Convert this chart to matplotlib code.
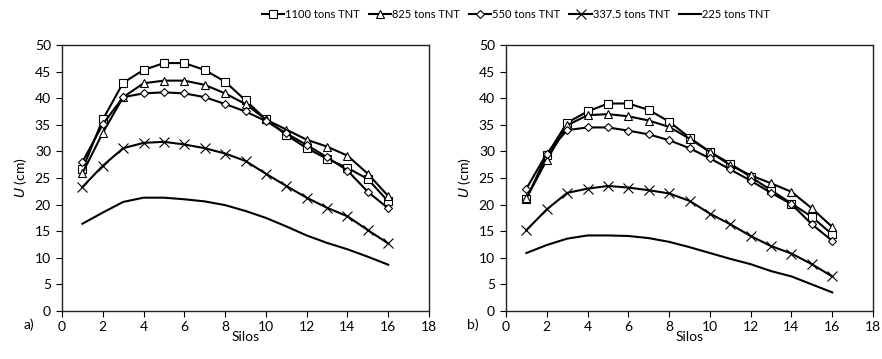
import matplotlib
matplotlib.use("Agg")
import matplotlib.pyplot as plt

plt.rcParams['font.family'] = ['Lato', 'DejaVu Sans']
plt.rcParams['font.size'] = 10

silos = list(range(1, 17))
labels = ['1100 tons TNT', '825 tons TNT', '550 tons TNT', '337.5 tons TNT', '225 tons TNT']
markers = ['s', '^', 'D', 'x', None]

# panel a)
a_1100 = [26.6, 36.0, 42.9, 45.3, 46.6, 46.6, 45.3, 43.1, 39.6, 36.0, 33.1, 30.6, 28.6, 26.9, 24.8, 20.6]
a_825 = [25.9, 33.5, 40.2, 42.8, 43.3, 43.3, 42.5, 40.9, 38.9, 36.0, 34.1, 32.2, 30.9, 29.2, 25.8, 21.6]
a_550 = [28.0, 35.1, 40.2, 40.9, 41.1, 40.9, 40.2, 38.9, 37.5, 35.7, 33.4, 31.2, 28.9, 26.4, 22.4, 19.3]
a_3375 = [23.3, 27.3, 30.6, 31.6, 31.8, 31.3, 30.6, 29.6, 28.2, 25.8, 23.5, 21.3, 19.4, 17.8, 15.2, 12.7]
a_225 = [16.4, 18.5, 20.5, 21.3, 21.3, 21.0, 20.6, 19.9, 18.8, 17.5, 15.9, 14.2, 12.8, 11.6, 10.2, 8.7]

# panel b)
b_1100 = [21.1, 29.3, 35.4, 37.5, 39.0, 39.0, 37.8, 35.6, 32.6, 29.9, 27.7, 25.2, 22.7, 20.2, 17.7, 14.4]
b_825 = [21.2, 28.4, 34.9, 36.8, 37.0, 36.6, 35.8, 34.6, 32.4, 29.9, 27.4, 25.5, 24.0, 22.4, 19.3, 15.8]
b_550 = [23.0, 29.6, 34.0, 34.5, 34.5, 33.9, 33.2, 32.1, 30.6, 28.7, 26.6, 24.5, 22.2, 20.1, 16.3, 13.2]
b_3375 = [15.2, 19.1, 22.2, 23.0, 23.5, 23.2, 22.7, 22.1, 20.7, 18.3, 16.3, 14.1, 12.2, 10.8, 8.8, 6.5]
b_225 = [10.9, 12.4, 13.6, 14.2, 14.2, 14.1, 13.7, 13.0, 12.0, 10.9, 9.8, 8.8, 7.5, 6.5, 5.0, 3.5]

fig = plt.figure(figsize=(8.82, 3.59), dpi=100)
ax1 = fig.add_axes([0.0703, 0.1337, 0.4161, 0.741])
ax2 = fig.add_axes([0.5737, 0.1337, 0.4161, 0.741])

panels = [(ax1, [a_1100, a_825, a_550, a_3375, a_225], 'a)'),
          (ax2, [b_1100, b_825, b_550, b_3375, b_225], 'b)')]

handles = []
for ax, series, tag in panels:
    handles = []
    for vals, lab, m in zip(series, labels, markers):
        ms = {'s': 6, '^': 6, 'D': 4.5, 'x': 6.5}.get(m, 0)
        h, = ax.plot(silos, vals, color='black', lw=1.5, marker=m, ms=ms,
                     mfc='white', mec='black', mew=0.8, label=lab)
        handles.append(h)
    ax.set_xlim(0, 18)
    ax.set_ylim(0, 50)
    ax.set_xticks(range(0, 19, 2))
    ax.set_yticks(range(0, 51, 5))
    ax.tick_params(direction='out', length=4, width=0.8, labelsize=10, pad=4)
    ax.tick_params(axis='x', pad=3)
    for s in ax.spines.values():
        s.set_linewidth(1.0)
        s.set_color('#222222')
    ax.set_xlabel('Silos', fontsize=10, labelpad=-1)
    ax.set_ylabel(r'$\mathit{U}$ (cm)', fontsize=10, labelpad=4)
    ax.text(-0.105, -0.05, tag, transform=ax.transAxes,
            fontsize=10, ha='left', va='center')

fig.legend(handles=handles, labels=labels, loc='upper center', ncol=5,
           bbox_to_anchor=(0.585, 1.0), frameon=False, fontsize=8,
           handlelength=2.0, columnspacing=0.8, handletextpad=0.1,
           borderaxespad=0.4)

fig.savefig('out.png', dpi=100)
